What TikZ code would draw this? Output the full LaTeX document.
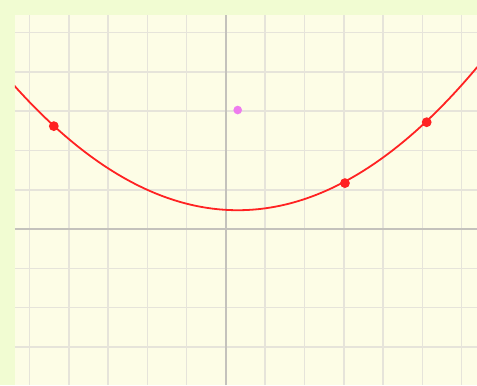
\documentclass[tikz,border=0pt]{standalone}
\usepackage{tikz}
\usepackage{xcolor}
\definecolor{framegreen}{HTML}{F1FCD2}
\definecolor{paperyellow}{HTML}{FDFDE6}
\definecolor{gridgray}{HTML}{E6E4DA}
\definecolor{axisgray}{HTML}{C4C2BC}
\definecolor{curvered}{HTML}{FF2222}
\definecolor{focuspink}{HTML}{EE7CEE}
\tikzstyle{gridline} = [draw=gridgray, line width=1.1pt]
\tikzstyle{axisline} = [draw=axisgray, line width=1.1pt]
\tikzstyle{curve}    = [draw=curvered, line width=1.3pt]
\tikzstyle{dot}      = [circle, fill=curvered, inner sep=0pt, minimum size=0.25cm]
\tikzstyle{focus}    = [circle, fill=focuspink, inner sep=0pt, minimum size=0.22cm]

\begin{document}
\begin{tikzpicture}
    % frame and paper
    \fill[framegreen] (-5.75,-3.97) rectangle (6.39,5.83);
    \fill[paperyellow] (-5.37,-3.97) rectangle (6.39,5.45);
    \useasboundingbox (-5.75,-3.97) rectangle (6.39,5.83);

    \begin{scope}
    \clip (-5.37,-3.97) rectangle (6.39,5.45);
    % grid
    \foreach \x in {-5,...,6}
        \draw[gridline] (\x,-3.97) -- (\x,5.45);
    \foreach \y in {-3,...,5}
        \draw[gridline] (-5.37,\y) -- (6.39,\y);
    \draw[axisline] (0,-3.97) -- (0,5.45);
    \draw[axisline] (-5.37,0) -- (6.39,0);

    % parabola
    \draw[curve, domain=-5.4:6.4, samples=120, smooth]
        plot (\x, {(\x-0.3)*(\x-0.3)/10.2+0.48});
    \end{scope}

    \node (p1) [dot] at (-4.38,2.62) {};
    \node (p2) [dot] at (3.03,1.17) {};
    \node (p3) [dot] at (5.11,2.72) {};
    \node (f)  [focus] at (0.3,3.03) {};
\end{tikzpicture}
\end{document}
